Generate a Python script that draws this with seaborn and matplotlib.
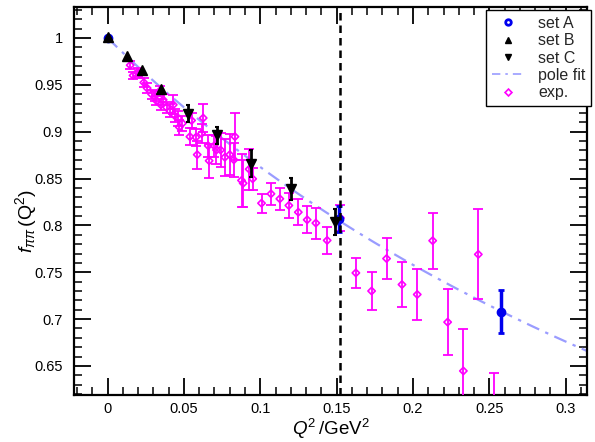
import numpy as np
import pandas as pd
import matplotlib
matplotlib.use("Agg")
import matplotlib.pyplot as plt
import seaborn as sns
from matplotlib.lines import Line2D
from matplotlib.ticker import MultipleLocator, FormatStrFormatter

# set A (filled blue points)
setA_q2 = [0.0, 0.1517, 0.2577]
setA_f = [1.0, 0.807, 0.708]
setA_err = [0.0, 0.014, 0.023]

# set B (up triangles)
setB_q2 = [0.0, 0.0126, 0.0225, 0.035]
setB_f = [1.001, 0.981, 0.966, 0.946]
setB_err = [0.0, 0.001, 0.002, 0.002]

# set C (down triangles)
setC_q2 = [0.0528, 0.0715, 0.0938, 0.1198, 0.149]
setC_f = [0.919, 0.896, 0.866, 0.839, 0.8035]
setC_err = [0.009, 0.009, 0.014, 0.012, 0.014]

# experimental points
exp_q2 = [0.0148, 0.0167, 0.0196, 0.0210, 0.0237, 0.0259, 0.0288, 0.0310, 0.0342,
          0.0320, 0.0349, 0.0364, 0.0386, 0.0408, 0.0430, 0.0440, 0.0462, 0.0469,
          0.0490, 0.0539, 0.0550, 0.0578, 0.0587, 0.0615, 0.0626, 0.0659, 0.0665,
          0.0698, 0.0713, 0.0740, 0.0768, 0.0800, 0.0827, 0.0834, 0.0877, 0.0888,
          0.0927, 0.0950, 0.1008, 0.1070, 0.1128, 0.1187, 0.1249, 0.1307, 0.1364,
          0.1438, 0.1525, 0.1626, 0.1729, 0.1827, 0.1928, 0.2028, 0.2129, 0.2227,
          0.2330, 0.2428, 0.2530]
exp_f = [0.971, 0.960, 0.9638, 0.961, 0.9525, 0.9465, 0.940, 0.938, 0.9436,
         0.933, 0.9287, 0.934, 0.926, 0.9223, 0.9287, 0.917, 0.9146, 0.905,
         0.909, 0.8947, 0.912, 0.894, 0.8755, 0.898, 0.9146, 0.885, 0.869,
         0.885, 0.8805, 0.8805, 0.8727, 0.8755, 0.870, 0.8947, 0.848, 0.845,
         0.860, 0.8497, 0.8237, 0.8337, 0.8284, 0.8213, 0.8141, 0.806, 0.8025,
         0.784, 0.808, 0.7493, 0.730, 0.7646, 0.7369, 0.7263, 0.7837, 0.6968,
         0.6447, 0.7691, 0.588]
exp_err = [0.004, 0.004, 0.004, 0.004, 0.005, 0.005, 0.005, 0.005, 0.005,
           0.005, 0.006, 0.006, 0.006, 0.007, 0.010, 0.007, 0.008, 0.008,
           0.008, 0.009, 0.008, 0.009, 0.015, 0.010, 0.015, 0.012, 0.018,
           0.012, 0.015, 0.018, 0.020, 0.022, 0.018, 0.025, 0.028, 0.025,
           0.022, 0.012, 0.010, 0.012, 0.012, 0.013, 0.014, 0.0145, 0.0165,
           0.014, 0.014, 0.016, 0.020, 0.022, 0.024, 0.027, 0.030, 0.035,
           0.045, 0.048, 0.054]

# pole fit: f = 1 / (1 + Q^2 / M^2)
pole_m2 = 0.626
fit_q2 = np.linspace(0.0, 0.315, 200)
fit_f = 1.0 / (1.0 + fit_q2 / pole_m2)

q2_cut = 0.152

sns.set_theme(style="white")
plt.rcParams['font.family'] = ['Liberation Sans', 'DejaVu Sans']
plt.rcParams['mathtext.fontset'] = 'custom'
plt.rcParams['mathtext.rm'] = 'Liberation Sans'
plt.rcParams['mathtext.it'] = 'Liberation Sans:italic'

fig = plt.figure(figsize=(5.95, 4.42), dpi=100)
ax = fig.add_axes([0.1244, 0.1063, 0.8622, 0.8777])

magenta = '#ff00ff'
fitcol = '#9a9cff'
blue = '#0000ee'

# pole fit
sns.lineplot(data=pd.DataFrame({'q2': fit_q2, 'f': fit_f}), x='q2', y='f', ax=ax,
             color=fitcol, lw=1.6, dashes=False, zorder=2)
ax.lines[-1].set_dashes([6, 3, 1.5, 3])

# exp. points
ax.errorbar(exp_q2, exp_f, yerr=exp_err, fmt='none', ecolor=magenta, elinewidth=1.3,
            capsize=3.5, capthick=1.3, zorder=3)
sns.scatterplot(data=pd.DataFrame({'q2': exp_q2, 'f': exp_f}), x='q2', y='f', ax=ax,
                marker='D', s=14, facecolor='none', edgecolor=magenta, linewidth=1.2, zorder=4)

# set A
ax.errorbar(setA_q2, setA_f, yerr=setA_err, fmt='o', color=blue, ms=6,
            elinewidth=2.5, capsize=2, capthick=2, zorder=5)
# set C
ax.errorbar(setC_q2, setC_f, yerr=setC_err, fmt='v', color='black', ms=6.5,
            elinewidth=2.0, capsize=1.5, capthick=1.5, zorder=6)
# set B
ax.errorbar(setB_q2, setB_f, yerr=setB_err, fmt='^', color='black', ms=6.5,
            elinewidth=1.5, capsize=1, zorder=6)

ax.axvline(q2_cut, color='black', lw=1.8, ls=(0, (3, 2)), zorder=7)

ax.set_xlim(-0.022, 0.314)
ax.set_ylim(0.619, 1.033)
ax.xaxis.set_major_locator(MultipleLocator(0.05))
ax.xaxis.set_minor_locator(MultipleLocator(0.01))
ax.yaxis.set_major_locator(MultipleLocator(0.05))
ax.yaxis.set_minor_locator(MultipleLocator(0.01))
ax.xaxis.set_major_formatter(FormatStrFormatter('%g'))
ax.yaxis.set_major_formatter(FormatStrFormatter('%g'))
ax.tick_params(which='both', direction='in', top=True, right=True, bottom=True, left=True,
               color='black', labelsize=10.5, labelcolor='black')
ax.tick_params(which='major', length=12, width=1.3, pad=8)
ax.tick_params(axis='x', which='major', pad=5)
ax.tick_params(which='minor', length=6, width=1.1)
for sp in ax.spines.values():
    sp.set_color('black')
    sp.set_linewidth(1.6)

ax.set_xlabel(r'$Q^2\,/\mathrm{GeV}^2$', fontsize=13.5, color='black')
ax.set_ylabel(r'$f_{\pi\pi}\,(\mathrm{Q}^2)$', fontsize=14, color='black')
ax.xaxis.set_label_coords(0.5, -0.056)
ax.yaxis.set_label_coords(-0.068, 0.45)

handles = [
    Line2D([], [], ls='none', marker='o', mfc='none', mec=blue, mew=2, ms=4),
    Line2D([], [], ls='none', marker='^', color='black', ms=4),
    Line2D([], [], ls='none', marker='v', color='black', ms=4),
    Line2D([], [], color=fitcol, lw=1.2, dashes=[5, 3, 1.5, 3]),
    Line2D([], [], ls='none', marker='D', mfc='none', mec=magenta, mew=1.2, ms=3.5),
]
labels = ['set A', 'set B', 'set C', 'pole fit', 'exp.']
leg = ax.legend(handles, labels, loc='upper right', bbox_to_anchor=(1.008, 0.992),
                borderaxespad=0, fontsize=11.5, frameon=True, fancybox=False,
                shadow=False, handlelength=2.0, borderpad=0.35, labelspacing=0.15,
                handletextpad=0.9)
leg.get_frame().set_edgecolor('black')
leg.get_frame().set_linewidth(1.0)
leg.get_frame().set_alpha(1)

fig.savefig('out.png', dpi=100)
